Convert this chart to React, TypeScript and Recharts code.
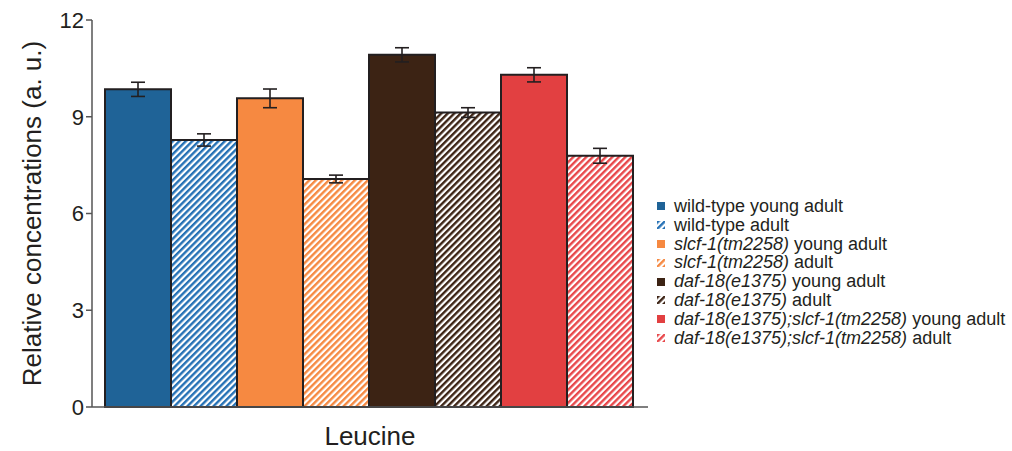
import { BarChart, Bar, XAxis, YAxis, ErrorBar, Legend } from 'recharts';

const category = 'Leucine';
const genotypes = ['wild-type', 'slcf-1(tm2258)', 'daf-18(e1375)', 'daf-18(e1375);slcf-1(tm2258)'];
const italicGenotype = [false, true, true, true];
const stages = ['young adult', 'adult'];
const means = [9.85, 8.28, 9.57, 7.07, 10.92, 9.13, 10.3, 7.79];
const errors = [0.22, 0.19, 0.29, 0.12, 0.22, 0.15, 0.22, 0.23];
const baseColors = ['#1f6397', '#f68941', '#3c2314', '#e24041'];
const stripeColors = ['#2571b5', '#f68941', '#3c2314', '#e8474a'];
const yTicks = [0, 3, 6, 9, 12];

const FONT = '"Liberation Sans", Arial, sans-serif';
const TEXT = '#231f20';

const series = genotypes.flatMap((g, gi) =>
  stages.map((s, si) => ({
    genotype: g,
    italic: italicGenotype[gi],
    stage: s,
    hatched: si === 1,
    color: baseColors[gi],
    stripe: stripeColors[gi],
    idx: gi * 2 + si,
  }))
);

const row: Record<string, string | number> = { name: category };
means.forEach((m, i) => {
  row[`m${i}`] = m;
  row[`e${i}`] = errors[i];
});
const data = [row];

const fillFor = (s: (typeof series)[number]) => (s.hatched ? `url(#hatch-${s.idx})` : s.color);

function LegendBox() {
  return (
    <div style={{ fontFamily: FONT, fontSize: 18, color: TEXT }}>
      {series.map((s) => (
        <div key={s.idx} style={{ height: 18.8, lineHeight: '18.8px', display: 'flex', alignItems: 'center', whiteSpace: 'nowrap' }}>
          <svg width={8} height={8} style={{ marginRight: 9, flex: 'none' }}>
            <rect x={0} y={0} width={8} height={8} fill={fillFor(s)} />
          </svg>
          <span>
            <span style={{ fontStyle: s.italic ? 'italic' : 'normal' }}>{s.genotype}</span> {s.stage}
          </span>
        </div>
      ))}
    </div>
  );
}

export default function App() {
  return (
    <div style={{ position: 'absolute', left: 0, top: 0, width: 1012, height: 451, background: '#fff', overflow: 'hidden' }}>
      <BarChart
        width={1012}
        height={451}
        data={data}
        margin={{ top: 20, right: 364, left: 0, bottom: 0 }}
        barCategoryGap={13}
        barGap={0}
      >
        <defs>
          {series
            .filter((s) => s.hatched)
            .map((s) => (
              <pattern
                key={s.idx}
                id={`hatch-${s.idx}`}
                patternUnits="userSpaceOnUse"
                width={4.6}
                height={4.6}
                patternTransform="rotate(45)"
              >
                <rect x={0} y={0} width={4.6} height={4.6} fill="#fff" />
                <rect x={0} y={0} width={2.4} height={4.6} fill={s.stripe} />
              </pattern>
            ))}
        </defs>
        <XAxis
          dataKey="name"
          tickLine={false}
          tickSize={6}
          tickMargin={14}
          height={44}
          axisLine={{ stroke: '#555', strokeWidth: 1.5 }}
          tick={{ fill: TEXT, fontSize: 26, fontFamily: FONT }}
        />
        <YAxis
          domain={[0, 12]}
          ticks={yTicks}
          width={92}
          tickSize={6}
          tickMargin={2}
          axisLine={{ stroke: '#555', strokeWidth: 1.5 }}
          tickLine={{ stroke: '#555', strokeWidth: 1.5 }}
          tick={{ fill: TEXT, fontSize: 22, fontFamily: FONT }}
          label={{
            value: 'Relative concentrations (a. u.)',
            angle: -90,
            position: 'center',
            dx: -14,
            style: { fill: TEXT, fontSize: 26, fontFamily: FONT },
          }}
        />
        <Legend
          layout="vertical"
          align="center"
          verticalAlign="middle"
          wrapperStyle={{ left: 657, top: 197, width: 355 }}
          content={() => <LegendBox />}
        />
        {series.map((s) => (
          <Bar
            key={s.idx}
            dataKey={`m${s.idx}`}
            fill={fillFor(s)}
            stroke={TEXT}
            strokeWidth={2}
            isAnimationActive={false}
          >
            <ErrorBar dataKey={`e${s.idx}`} width={7} stroke={TEXT} strokeWidth={1.6} isAnimationActive={false} />
          </Bar>
        ))}
      </BarChart>
    </div>
  );
}
